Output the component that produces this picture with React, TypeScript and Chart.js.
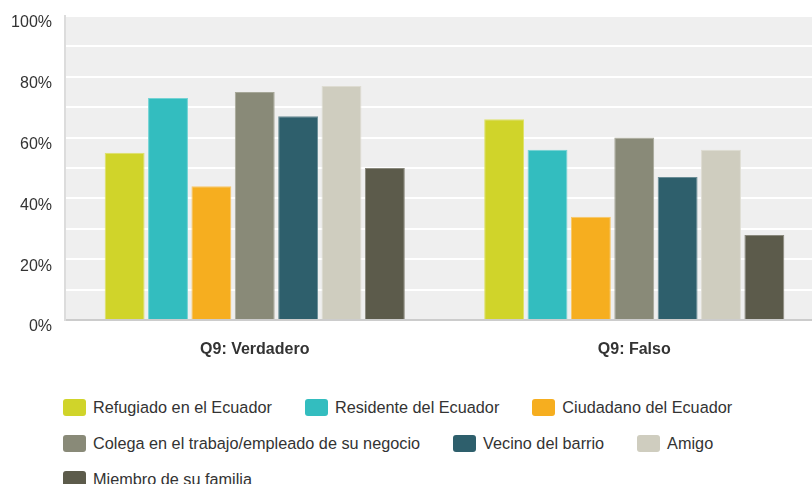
import React, { useEffect, useRef } from 'react';
import { Chart, registerables } from 'chart.js';

Chart.register(...registerables);

// ---- data ----
const categories = ['Q9: Verdadero', 'Q9: Falso'];

const seriesNames = [
  'Refugiado en el Ecuador',
  'Residente del Ecuador',
  'Ciudadano del Ecuador',
  'Colega en el trabajo/empleado de su negocio',
  'Vecino del barrio',
  'Amigo',
  'Miembro de su familia',
];

const refugiado = [55, 66];
const residente = [73, 56];
const ciudadano = [44, 34];
const colega = [75, 60];
const vecino = [67, 47];
const amigo = [77, 56];
const miembro = [50, 28];

const seriesValues = [refugiado, residente, ciudadano, colega, vecino, amigo, miembro];

const seriesColors = ['#d0d42a', '#33bdbf', '#f6ae1f', '#898a78', '#2e5f6c', '#cfcdbf', '#5c5b4b'];
const seriesBorders = ['#dfe26a', '#73d3d4', '#f9c766', '#a6a798', '#6a8d96', '#dedcd2', '#8a897d'];

const yTickValues = [0, 20, 40, 60, 80, 100];
const yTickLabels = ['0%', '20%', '40%', '60%', '80%', '100%'];

const FONT = "'Liberation Sans', Arial, sans-serif";

const plotBackground = {
  id: 'plotBackground',
  beforeDraw(chart: any) {
    const { ctx, chartArea } = chart;
    if (!chartArea) return;
    ctx.save();
    ctx.fillStyle = '#efefef';
    ctx.fillRect(chartArea.left, chartArea.top, chartArea.right - chartArea.left, chartArea.bottom - chartArea.top);
    ctx.restore();
  },
};

export default function App() {
  const canvasRef = useRef<HTMLCanvasElement | null>(null);

  useEffect(() => {
    if (!canvasRef.current) return;
    const chart = new Chart(canvasRef.current, {
      type: 'bar',
      data: {
        labels: categories,
        datasets: seriesNames.map((name, i) => ({
          label: name,
          data: seriesValues[i],
          backgroundColor: seriesColors[i],
          borderColor: seriesBorders[i],
          borderWidth: 1,
          categoryPercentage: 0.8,
          barPercentage: 0.92,
        })),
      },
      options: {
        animation: false,
        responsive: true,
        maintainAspectRatio: false,
        devicePixelRatio: 1,
        layout: { padding: { left: 12, top: 16, right: 0, bottom: 13 } },
        plugins: {
          legend: { display: false },
          tooltip: { enabled: false },
        },
        scales: {
          x: {
            grid: { display: false, drawTicks: false },
            border: { display: true, color: '#cccccc', width: 2 },
            ticks: {
              padding: 20,
              color: '#333333',
              font: { family: FONT, size: 16, weight: 'bold' },
            },
            afterFit: (scale: any) => {
              scale.height = 39;
              scale.paddingLeft = 0;
              scale.paddingRight = 0;
            },
          },
          y: {
            min: 0,
            max: 100,
            grid: {
              drawTicks: false,
              lineWidth: 2,
              color: (ctx: any) => (ctx.tick && ctx.tick.value === 0 ? 'rgba(0,0,0,0)' : '#ffffff'),
            },
            border: { display: true, color: '#dcdcdc', width: 2 },
            ticks: {
              stepSize: 10,
              padding: 13,
              labelOffset: 7,
              color: '#333333',
              font: { family: FONT, size: 16 },
              callback: (value: any) => {
                const idx = yTickValues.indexOf(Number(value));
                return idx >= 0 ? yTickLabels[idx] : '';
              },
            },
            afterFit: (scale: any) => {
              scale.width = 53;
              scale.paddingTop = 0;
              scale.paddingBottom = 0;
            },
          },
        },
      },
      plugins: [plotBackground],
    });
    return () => chart.destroy();
  }, []);

  return (
    <div
      style={{
        position: 'absolute',
        left: 0,
        top: 0,
        width: 812,
        height: 484,
        overflow: 'hidden',
        background: '#ffffff',
        fontFamily: FONT,
      }}
    >
      <div style={{ position: 'absolute', left: 0, top: 0, width: 824, height: 372 }}>
        <canvas ref={canvasRef} />
      </div>
      <div
        style={{
          position: 'absolute',
          left: 63,
          top: 398,
          width: 749,
          display: 'flex',
          flexWrap: 'wrap',
          columnGap: 33,
          rowGap: 18,
        }}
      >
        {seriesNames.map((name, i) => (
          <div key={name} style={{ display: 'flex', alignItems: 'center', height: 18 }}>
            <span
              style={{
                display: 'inline-block',
                width: 23,
                height: 17,
                borderRadius: 3,
                background: seriesColors[i],
                marginRight: 7,
              }}
            />
            <span style={{ fontSize: 16.25, color: '#333333', whiteSpace: 'nowrap', lineHeight: '18px' }}>{name}</span>
          </div>
        ))}
      </div>
    </div>
  );
}
